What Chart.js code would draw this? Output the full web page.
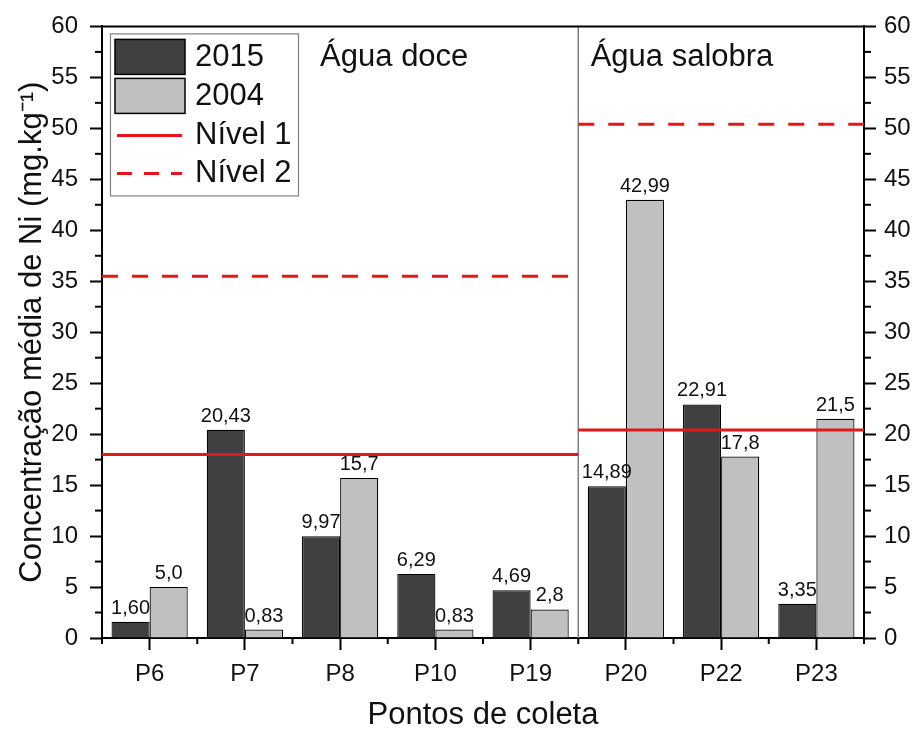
<!DOCTYPE html>
<html><head><meta charset="utf-8">
<script src="https://cdn.jsdelivr.net/npm/chart.js@4.4.1/dist/chart.umd.min.js"></script>
<style>html,body{margin:0;padding:0;background:#fff}</style>
</head><body>
<canvas id="c" width="917" height="731"></canvas>
<script>
// ---- data ----
const categories = ['P6','P7','P8','P10','P19','P20','P22','P23'];
const values2015 = [1.60, 20.43, 9.97, 6.29, 4.69, 14.89, 22.91, 3.35];
const values2004 = [5.0, 0.83, 15.7, 0.83, 2.8, 42.99, 17.8, 21.5];
const labels2015 = ['1,60','20,43','9,97','6,29','4,69','14,89','22,91','3,35'];
const labels2004 = ['5,0','0,83','15,7','0,83','2,8','42,99','17,8','21,5'];
const nivel1 = [18, 20.4];      // água doce, água salobra
const nivel2 = [35.5, 50.4];    // água doce, água salobra
const splitIndex = 5;           // first salobra category
const yTickValues = [0,5,10,15,20,25,30,35,40,45,50,55,60];
const yMinorValues = [2.5,7.5,12.5,17.5,22.5,27.5,32.5,37.5,42.5,47.5,52.5,57.5];
const sectionNames = ['Água doce','Água salobra'];
const legendNames = ['2015','2004','Nível 1','Nível 2'];

const FONT = "'Liberation Sans', Arial, sans-serif";
Chart.defaults.font.family = FONT;
Chart.defaults.color = '#111';

const nCat = categories.length;
const RED = '#e8141b';

const datasets = [
  {label:legendNames[0], data: values2015, backgroundColor:'#404040', borderColor:'#000', borderWidth:1.2, barPercentage:1, categoryPercentage:0.8, valueLabels: labels2015},
  {label:legendNames[1], data: values2004, backgroundColor:'#c0c0c0', borderColor:'#000', borderWidth:1.2, barPercentage:1, categoryPercentage:0.8, valueLabels: labels2004}
];

const extras = {
  id:'extras',
  afterDatasetsDraw(chart){
    const {ctx, chartArea:a, scales} = chart;
    const xs = scales.x, ys = scales.y;
    const edge = i => xs.getPixelForValue(i - 0.5);
    ctx.save();
    const ln = (x1,y1,x2,y2)=>{ctx.beginPath();ctx.moveTo(x1,y1);ctx.lineTo(x2,y2);ctx.stroke();};
    // separator
    ctx.strokeStyle = '#808080'; ctx.lineWidth = 1.5;
    ln(edge(splitIndex), a.top, edge(splitIndex), a.bottom);
    // level lines
    ctx.strokeStyle = RED; ctx.lineWidth = 3; ctx.lineCap = 'butt';
    ln(edge(0), ys.getPixelForValue(nivel1[0]), edge(splitIndex), ys.getPixelForValue(nivel1[0]));
    ln(edge(splitIndex), ys.getPixelForValue(nivel1[1]), edge(nCat), ys.getPixelForValue(nivel1[1]));
    ctx.setLineDash([16,14]);
    ln(edge(0), ys.getPixelForValue(nivel2[0]), edge(splitIndex), ys.getPixelForValue(nivel2[0]));
    ln(edge(splitIndex), ys.getPixelForValue(nivel2[1]), edge(nCat), ys.getPixelForValue(nivel2[1]));
    ctx.setLineDash([]);
    // value labels
    ctx.font = '20px ' + FONT; ctx.fillStyle = '#111'; ctx.textAlign = 'center'; ctx.textBaseline = 'alphabetic';
    [0,1].forEach(di => {
      const meta = chart.getDatasetMeta(di);
      meta.data.forEach((bar, i) => {
        ctx.fillText(chart.data.datasets[di].valueLabels[i], bar.x, bar.y - 8);
      });
    });
    // section names
    ctx.font = '31px ' + FONT; ctx.textAlign = 'left';
    ctx.fillText(sectionNames[0], xs.getPixelForValue(1.79), ys.getPixelForValue(56.1));
    ctx.fillText(sectionNames[1], xs.getPixelForValue(4.63), ys.getPixelForValue(56.1));
    ctx.restore();
  },
  afterDraw(chart){
    const {ctx, chartArea:a, scales} = chart;
    ctx.save();
    ctx.strokeStyle = '#000'; ctx.lineWidth = 2;
    const ln = (x1,y1,x2,y2)=>{ctx.beginPath();ctx.moveTo(x1,y1);ctx.lineTo(x2,y2);ctx.stroke();};
    yMinorValues.forEach(v => { const y = scales.y.getPixelForValue(v); ln(a.left-7,y,a.left,y); ln(a.right,y,a.right+7,y); });
    for (let i=0;i<=nCat;i++){ const x = scales.x.getPixelForValue(i - 0.5); ln(x,a.bottom,x,a.bottom+6); }
    ln(a.left-1,a.top,a.right+1,a.top);
    // legend
    const lx = a.left + 8, ly = a.top + 7;
    ctx.fillStyle = '#fff'; ctx.fillRect(lx, ly, 188, 162);
    ctx.strokeStyle = '#808080'; ctx.lineWidth = 1.2; ctx.strokeRect(lx+0.5, ly+0.5, 188, 162);
    const ds = chart.data.datasets;
    ctx.lineWidth = 1.5; ctx.strokeStyle = '#000';
    ctx.fillStyle = ds[0].backgroundColor; ctx.fillRect(lx+5, ly+6, 70, 35); ctx.strokeRect(lx+5, ly+6, 70, 35);
    ctx.fillStyle = ds[1].backgroundColor; ctx.fillRect(lx+5, ly+45, 70, 35); ctx.strokeRect(lx+5, ly+45, 70, 35);
    ctx.strokeStyle = RED; ctx.lineWidth = 3;
    ln(lx+7, ly+102, lx+72, ly+102);
    ctx.setLineDash([15,12]); ln(lx+7, ly+140, lx+72, ly+140); ctx.setLineDash([]);
    ctx.fillStyle = '#111'; ctx.font = '31px ' + FONT; ctx.textAlign = 'left'; ctx.textBaseline = 'middle';
    ctx.fillText(legendNames[0], lx+85, ly+24);
    ctx.fillText(legendNames[1], lx+85, ly+63);
    ctx.fillText(legendNames[2], lx+85, ly+102);
    ctx.fillText(legendNames[3], lx+85, ly+140);
    ctx.restore();
  }
};

const axisCommon = {
  min:0, max:60,
  afterBuildTicks: s => { s.ticks = yTickValues.map(v => ({value:v})); },
  grid:{drawOnChartArea:false, color:'#000', tickLength:12, tickWidth:2},
  border:{color:'#000', width:2}
};

new Chart(document.getElementById('c'), {
  type:'bar',
  data:{labels:categories, datasets},
  plugins:[extras],
  options:{
    responsive:false, animation:false,
    layout:{padding:{top:24, left:0, right:0, bottom:0}},
    plugins:{legend:{display:false}, tooltip:{enabled:false}},
    scales:{
      x:{type:'category', offset:true,
         grid:{offset:false, drawOnChartArea:false, color:'#000', tickLength:12, tickWidth:2},
         border:{color:'#000', width:2},
         ticks:{font:{size:24}, color:'#111', padding:10},
         title:{display:true, text:'Pontos de coleta', font:{size:31, lineHeight:1}, color:'#111', padding:{top:0,bottom:0}},
         afterFit: s => { s.height = 93; }},
      y:Object.assign({}, axisCommon, {position:'left',
         ticks:{font:{size:24}, color:'#111', padding:12},
         title:{display:true, text:'Concentração média de Ni (mg.kg⁻¹)', font:{size:31}, color:'#111', padding:{top:14,bottom:0}},
         afterFit: s => { s.width = 102; }}),
      y2:Object.assign({}, axisCommon, {position:'right',
         ticks:{font:{size:24}, color:'#111', padding:8},
         afterFit: s => { s.width = 53; }})
    }
  }
});
</script>
</body></html>
